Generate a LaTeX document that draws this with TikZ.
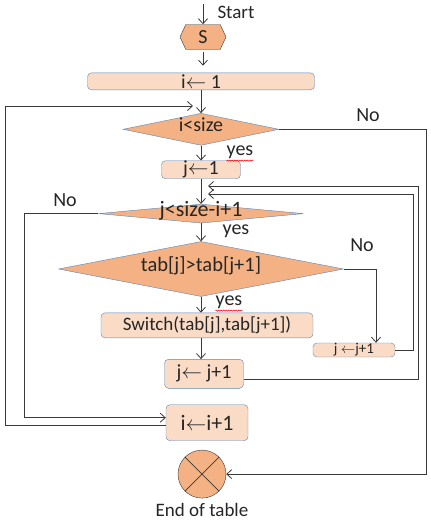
\documentclass[tikz,border=0pt]{standalone}
\usepackage{fontspec}
\setmainfont{Carlito}
\usepackage{xcolor}
\usepackage{tikz}
\usetikzlibrary{shapes.geometric, shapes.symbols, arrows.meta, positioning, decorations.pathmorphing}

\definecolor{boxfill}{HTML}{FADBC6}
\definecolor{decfill}{HTML}{F4B183}
\definecolor{boxline}{HTML}{5B85B5}
\definecolor{wire}{HTML}{3A3A3A}

\begin{document}
\begin{tikzpicture}[
  x=1pt, y=-1pt,
  font=\fontsize{20}{22}\selectfont,
  box/.style = {rectangle, draw=boxline, rounded corners=4pt, fill=boxfill, inner sep=0pt, text=black!85},
  dec/.style = {diamond, draw=boxline, fill=decfill, inner sep=0pt, text height=7pt, text depth=2pt, text=black!85},
  term/.style = {signal, signal to=east and west, signal pointer angle=130, draw=wire, fill=decfill,
                 minimum width=46pt, minimum height=25pt, inner sep=0pt, text=black!85},
  endpt/.style = {circle, draw=wire, fill=decfill, minimum size=48pt, inner sep=0pt},
  arr/.style = {-{Straight Barb[length=5pt, width=9pt]}, wire, line width=0.8pt},
  lbl/.style = {inner sep=0pt, text=black!85},
  spell/.style = {red, line width=0.5pt, decorate, decoration={snake, amplitude=.6pt, segment length=2.5pt}}
]
  \useasboundingbox (0,0) rectangle (431,525);

  % main column
  \coordinate (top) at (203,4);
  \node[term] (s) at (203,37) {S};
  \node[box, below=23pt of s, xshift=-2pt, minimum width=227pt, minimum height=17pt] (init) {i$\leftarrow$ 1};
  \node[dec, below=23pt of init, minimum width=156pt, minimum height=32pt, aspect=5] (c1) {i<size};
  \node[box, below=15pt of c1, minimum width=79pt, minimum height=18pt] (j1) {j$\leftarrow$1};
  \node[dec, below=25pt of j1, minimum width=205pt, minimum height=19pt, aspect=10,
        font=\fontsize{22}{23}\selectfont] (c2) {j<size-i+1};
  \node[dec, below=18pt of c2, minimum width=285pt, minimum height=55pt, aspect=5,
        font=\fontsize{20.5}{22}\selectfont] (c3) {tab[j]>tab[j+1]};
  \node[box, below=16pt of c3, xshift=6pt, minimum width=212pt, minimum height=25pt,
        font=\fontsize{19}{21}\selectfont] (sw) {Switch(tab[j],tab[j+1])};
  \node[box, below=21pt of sw, xshift=-3pt, minimum width=79pt, minimum height=29pt] (j2) {j$\leftarrow$ j+1};
  \node[box, below=16pt of j2, xshift=3pt, minimum width=82pt, minimum height=36pt,
        font=\fontsize{22}{24}\selectfont] (inc) {i$\leftarrow$i+1};
  \node[endpt, below=9pt of inc, xshift=-5pt] (fin) {};
  \draw[wire, line width=0.8pt] (fin.north west) -- (fin.south east) (fin.north east) -- (fin.south west);

  % side box
  \node[box, minimum width=82pt, minimum height=14pt, font=\fontsize{15}{16}\selectfont] (j3) at (354,350) {j $\leftarrow$j+1};

  % texts
  \node[lbl, font=\fontsize{19}{20}\selectfont] (start) at (236,12) {Start};
  \node[lbl, below=5pt of fin, font=\fontsize{19}{20}\selectfont] (endtxt) {End of table};
  \node[lbl] (no1) at (368,115) {No};
  \node[lbl] (no2) at (65,200) {No};
  \node[lbl] (no3) at (362,245) {No};
  \node[lbl] (yes1) at (240,152) {yes};
  \node[lbl] (yes2) at (236,231) {yes};
  \node[lbl] (yes3) at (229,302) {yes};
  \draw[spell] ([yshift=-2pt]yes1.south west) -- ([yshift=-2pt]yes1.south east);
  \draw[spell] ([yshift=-2pt]yes3.south west) -- ([yshift=-2pt]yes3.south east);

  % rails and loop ends
  \coordinate (railL)  at (5,0);
  \coordinate (railL2) at (24,0);
  \coordinate (railR)  at (426,0);
  \coordinate (railR2) at (418,0);
  \coordinate (railR3) at (413,0);
  \coordinate (ret1) at (193,106);
  \coordinate (ret2) at (208,186);
  \coordinate (ret3) at (208,194);

  \draw[arr] (top) -- (s.north);
  \draw[arr, shorten <=2pt, shorten >=7pt] (s.south) -- (s.south |- init.north);
  \draw[arr] (init.south -| c1.north) -- (c1.north);
  \draw[arr] (c1.south) -- (j1.north);
  \draw[arr] (j1.south) -- (c2.north);
  \draw[arr] (c2.south) -- (c3.north);
  \draw[arr] (c3.south) -- (c3.south |- sw.north);
  \draw[arr] (c3.south |- sw.south) -- (c3.south |- j2.north);

  \draw[arr] (c1.east) -- (c1.east -| railR) |- (fin.east);
  \draw[arr] (c2.west) -- (c2.west -| railL2) |- ([yshift=5pt]inc.west);
  \draw[arr] ([yshift=-3pt]inc.west) -- ([yshift=-3pt]inc.west -| railL) |- (ret1);
  \draw[arr] (c3.east) -| ([xshift=22pt]j3.north);
  \draw[arr] (j3.east) -- (j3.east -| railR3) |- (ret3);
  \draw[arr] ([yshift=-6pt]j2.east) -- ([yshift=-6pt]j2.east -| railR2) |- (ret2);
\end{tikzpicture}
\end{document}
